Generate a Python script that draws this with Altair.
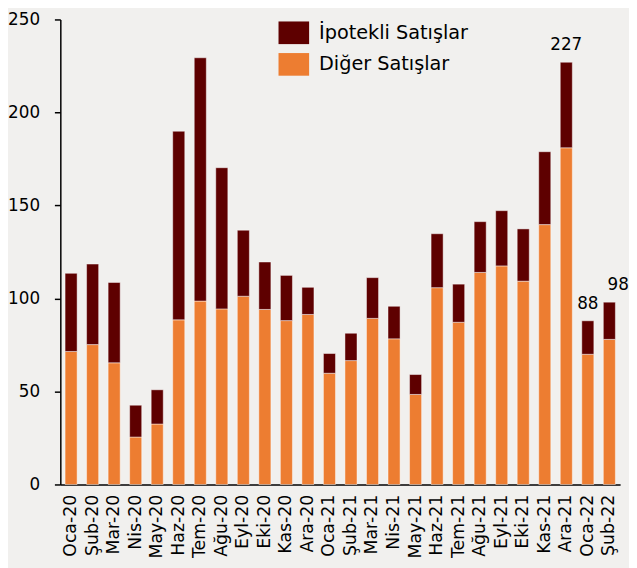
import altair as alt
import pandas as pd

months = ["Oca-20", "Şub-20", "Mar-20", "Nis-20", "May-20", "Haz-20", "Tem-20", "Ağu-20",
          "Eyl-20", "Eki-20", "Kas-20", "Ara-20", "Oca-21", "Şub-21", "Mar-21", "Nis-21",
          "May-21", "Haz-21", "Tem-21", "Ağu-21", "Eyl-21", "Eki-21", "Kas-21", "Ara-21",
          "Oca-22", "Şub-22"]
diger = [71.5, 75.2, 65.4, 25.5, 32.5, 88.5, 98.6, 94.4, 101.2, 94.1, 88.1, 91.4,
         59.8, 66.6, 89.3, 78.3, 48.4, 105.8, 87.2, 114.0, 117.5, 109.3, 139.7, 181.0,
         70.0, 78.0]
ipotekli = [42.0, 43.3, 43.2, 17.1, 18.4, 101.4, 130.8, 75.9, 35.5, 25.5, 24.3, 14.6,
            10.6, 14.7, 21.9, 17.5, 10.7, 29.0, 20.5, 27.3, 29.7, 28.1, 39.2, 46.0,
            18.0, 20.0]
label_months = ["Ara-21", "Oca-22", "Şub-22"]
label_texts = ["227", "88", "98"]
label_dx = [0, 0, 9]

series_names = ["İpotekli Satışlar", "Diğer Satışlar"]
colors = ["#5E0000", "#ED7D31"]

rows = []
for m, d, i in zip(months, diger, ipotekli):
    rows.append({"month": m, "series": series_names[1], "value": d, "order": 1})
    rows.append({"month": m, "series": series_names[0], "value": i, "order": 2})
df = pd.DataFrame(rows)

totals = {m: d + i for m, d, i in zip(months, diger, ipotekli)}
lab_df = pd.DataFrame({
    "month": label_months,
    "total": [totals[m] for m in label_months],
    "text": label_texts,
    "dx": label_dx,
})

FONT = "DejaVu Sans"

xenc = alt.X("month:N", sort=months, title=None,
             scale=alt.Scale(paddingInner=0.44, paddingOuter=0.22),
             axis=alt.Axis(labelAngle=-90, labelFontSize=17.5, labelColor="#000000",
                           domainColor="#000000", domainWidth=1.5, ticks=False,
                           labelPadding=10, labelFont=FONT, labelBaseline="middle",
                           labelAlign="right"))

bars = alt.Chart(df).mark_bar(stroke="#ffffff", strokeOpacity=0.45, strokeWidth=1).encode(
    x=xenc,
    y=alt.Y("sum(value):Q", title=None,
            scale=alt.Scale(domain=[0, 250], nice=False),
            axis=alt.Axis(values=[0, 50, 100, 150, 200, 250], grid=False,
                          labelFontSize=17, labelColor="#000000", labelFont=FONT,
                          domainColor="#000000", domainWidth=1.5,
                          tickColor="#000000", tickSize=6, tickWidth=1.5,
                          labelPadding=15)),
    color=alt.Color("series:N", sort=series_names,
                    scale=alt.Scale(domain=series_names, range=colors),
                    legend=alt.Legend(title=None, orient="none", legendX=221, legendY=-2,
                                      labelFontSize=19.5, labelFont=FONT, labelColor="#000000",
                                      symbolType="M-1,-0.74L1,-0.74L1,0.74L-1,0.74Z",
                                      symbolSize=961, symbolStrokeWidth=0,
                                      symbolOpacity=1, rowPadding=5, labelOffset=10)),
    order=alt.Order("order:Q", sort="ascending"),
)

labels_main = alt.Chart(lab_df[lab_df["dx"] == 0]).mark_text(
    baseline="bottom", dy=-8, fontSize=17, font=FONT, color="#000000"
).encode(x=alt.X("month:N", sort=months), y=alt.Y("total:Q"), text="text:N")

labels_shift = alt.Chart(lab_df[lab_df["dx"] != 0]).mark_text(
    baseline="bottom", dy=-8, dx=9, fontSize=17, font=FONT, color="#000000"
).encode(x=alt.X("month:N", sort=months), y=alt.Y("total:Q"), text="text:N")

chart = alt.layer(bars, labels_main, labels_shift).properties(
    width=567, height=471,
    padding={"left": 53, "top": 8, "right": 9, "bottom": 81},
    autosize=alt.AutoSizeParams(type="none"),
    background="#F1F0EE",
).configure_view(stroke=None)

chart.save("out.html", embed_options={"renderer": "svg", "actions": False})
